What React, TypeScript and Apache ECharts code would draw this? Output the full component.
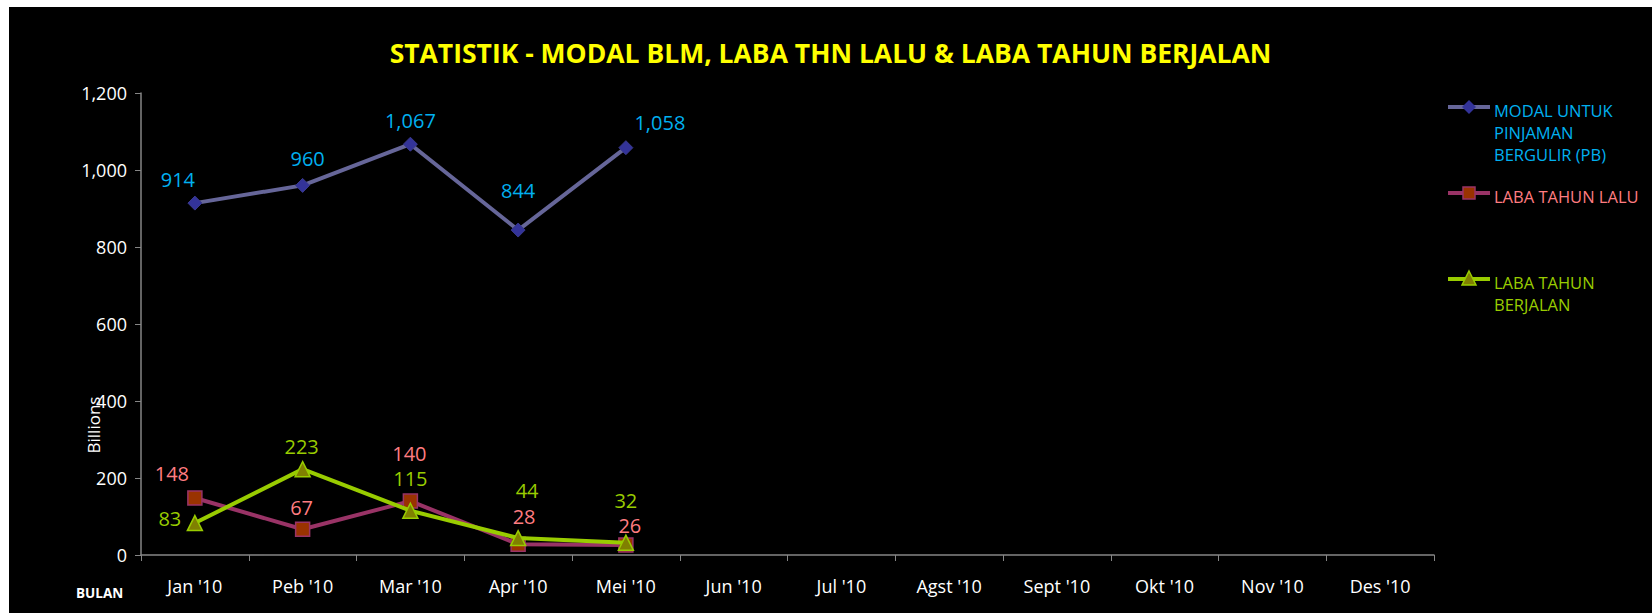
import React, { useEffect, useRef } from "react";
import * as echarts from "echarts";

const months = ["Jan '10", "Peb '10", "Mar '10", "Apr '10", "Mei '10", "Jun '10", "Jul '10", "Agst '10", "Sept '10", "Okt '10", "Nov '10", "Des '10"];
const seriesNames = ["MODAL UNTUK PINJAMAN BERGULIR (PB)", "LABA TAHUN LALU", "LABA TAHUN BERJALAN"];
const modalValues = [914, 960, 1067, 844, 1058];
const labaLaluValues = [148, 67, 140, 28, 26];
const labaBerjalanValues = [83, 223, 115, 44, 32];
const yTicks = { min: 0, max: 1200, interval: 200 };

// label offsets (style only): label centre relative to marker centre
const modalLabelOffsets = [[-17, -24], [5, -27], [0, -24], [0, -40], [34, -25]];
const laluLabelOffsets = [[-23, -25], [-1, -22], [-1, -48], [6, -28], [4, -19]];
const berjalanLabelOffsets = [[-25, -5], [-1, -23], [0, -32], [9, -48], [0, -42]];

const FONT = "'Open Sans', 'Noto Sans', sans-serif";

function withOffsets(values: number[], offsets: number[][]) {
  return values.map((v, i) => ({ value: v, label: { offset: offsets[i] } }));
}

export default function App() {
  const ref = useRef<HTMLDivElement>(null);
  useEffect(() => {
    if (!ref.current) return;
    const chart = echarts.init(ref.current, null, { renderer: "svg" });
    const fmt = (v: number) => v.toLocaleString("en-US");
    const mkLabel = (color: string) => ({
      show: true,
      position: "inside",
      color,
      fontSize: 20,
      lineHeight: 20,
      fontFamily: FONT,
      formatter: (p: any) => fmt(p.value),
    });
    chart.setOption({
      animation: false,
      backgroundColor: "#000000",
      title: {
        text: "STATISTIK - MODAL BLM, LABA THN LALU & LABA TAHUN BERJALAN",
        left: "center",
        top: 32,
        padding: 0,
        textStyle: { color: "#FFFF00", fontSize: 26.5, fontWeight: "bold", fontFamily: FONT, lineHeight: 28 },
      },
      grid: { left: 132, right: 218, top: 86, bottom: 58, containLabel: false },
      xAxis: {
        type: "category",
        data: months,
        boundaryGap: true,
        axisLine: { lineStyle: { color: "#868686", width: 1.5 } },
        axisTick: { show: true, length: 6, lineStyle: { color: "#868686" } },
        axisLabel: { color: "#FFFFFF", fontSize: 18, fontFamily: FONT, margin: 22, interval: 0 },
        splitLine: { show: false },
      },
      yAxis: {
        type: "value",
        min: yTicks.min,
        max: yTicks.max,
        interval: yTicks.interval,
        axisLine: { show: true, lineStyle: { color: "#868686", width: 1.5 } },
        axisTick: { show: true, length: 6, lineStyle: { color: "#868686" } },
        axisLabel: { color: "#FFFFFF", fontSize: 18, fontFamily: FONT, margin: 14, formatter: (v: number) => fmt(v) },
        splitLine: { show: false },
      },
      series: [
        {
          name: seriesNames[0],
          type: "line",
          data: withOffsets(modalValues, modalLabelOffsets),
          symbol: "diamond",
          symbolSize: 14,
          lineStyle: { color: "#666699", width: 4 },
          itemStyle: { color: "#333399", borderColor: "#3A3A8C", borderWidth: 1 },
          label: mkLabel("#00B0F0"),
          z: 3,
        },
        {
          name: seriesNames[1],
          type: "line",
          data: withOffsets(labaLaluValues, laluLabelOffsets),
          symbol: "rect",
          symbolSize: 14,
          lineStyle: { color: "#993366", width: 4 },
          itemStyle: { color: "#993300", borderColor: "#993366", borderWidth: 1.5 },
          label: mkLabel("#FF7C80"),
          z: 3,
        },
        {
          name: seriesNames[2],
          type: "line",
          data: withOffsets(labaBerjalanValues, berjalanLabelOffsets),
          symbol: "triangle",
          symbolSize: 15,
          lineStyle: { color: "#99CC00", width: 4 },
          itemStyle: { color: "#808000", borderColor: "#99CC00", borderWidth: 1.5 },
          label: mkLabel("#99CC00"),
          z: 4,
        },
      ],
      graphic: [
        // legend item 1
        { type: "line", shape: { x1: 1439, y1: 100, x2: 1481, y2: 100 }, style: { stroke: "#666699", lineWidth: 4 } },
        { type: "polygon", shape: { points: [[1460, 93], [1467, 100], [1460, 107], [1453, 100]] }, style: { fill: "#333399" } },
        {
          type: "text", x: 1485, y: 92,
          style: { text: "MODAL UNTUK\nPINJAMAN\nBERGULIR (PB)", fill: "#00B0F0", fontSize: 16.5, fontFamily: FONT, lineHeight: 22, verticalAlign: "top" },
        },
        // legend item 2
        { type: "line", shape: { x1: 1439, y1: 186, x2: 1481, y2: 186 }, style: { stroke: "#993366", lineWidth: 4 } },
        { type: "rect", shape: { x: 1454, y: 180, width: 12, height: 12 }, style: { fill: "#993300", stroke: "#993366", lineWidth: 1.5 } },
        {
          type: "text", x: 1485, y: 178,
          style: { text: "LABA TAHUN LALU", fill: "#FF7C80", fontSize: 16.5, fontFamily: FONT, lineHeight: 22, verticalAlign: "top" },
        },
        // legend item 3
        { type: "line", shape: { x1: 1439, y1: 272, x2: 1481, y2: 272 }, style: { stroke: "#99CC00", lineWidth: 4 } },
        { type: "polygon", shape: { points: [[1460, 264], [1467, 278], [1453, 278]] }, style: { fill: "#808000", stroke: "#99CC00", lineWidth: 1.5 } },
        {
          type: "text", x: 1485, y: 264,
          style: { text: "LABA TAHUN\nBERJALAN", fill: "#99CC00", fontSize: 16.5, fontFamily: FONT, lineHeight: 22, verticalAlign: "top" },
        },
        // axis titles
        {
          type: "text", x: 84, y: 418, rotation: Math.PI / 2,
          style: { text: "Billions", fill: "#FFFFFF", fontSize: 17, fontFamily: FONT, align: "center", verticalAlign: "middle" },
        },
        {
          type: "text", x: 67, y: 586,
          style: { text: "BULAN", fill: "#FFFFFF", fontSize: 13.5, fontWeight: "bold", fontFamily: FONT, verticalAlign: "middle" },
        },
      ],
    });
    return () => chart.dispose();
  }, []);
  return (
    <div
      ref={ref}
      style={{ position: "fixed", left: 9, top: 7, width: 1643, height: 606, background: "#000" }}
    />
  );
}
